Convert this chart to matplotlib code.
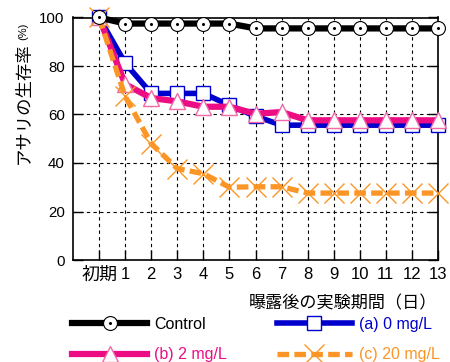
import numpy as np
import matplotlib
matplotlib.use('Agg')
import matplotlib.pyplot as plt

plt.rcParams['font.family'] = ['Liberation Sans', 'Noto Sans CJK JP', 'DejaVu Sans']

# データ
day_labels = ['初期', '1', '2', '3', '4', '5', '6', '7', '8', '9', '10', '11', '12', '13']
control = [100, 97.5, 97.5, 97.5, 97.5, 97.5, 95.5, 95.5, 95.5, 95.5, 95.5, 95.5, 95.5, 95.5]
a_0mg = [100, 81.2, 68.7, 68.7, 68.7, 63.8, 59.3, 55.6, 55.6, 55.6, 55.6, 55.6, 55.6, 55.6]
b_2mg = [100, 72.5, 66.8, 65.4, 63.2, 63.2, 60.3, 61.0, 57.6, 57.6, 57.6, 57.6, 57.6, 57.6]
c_20mg = [100, 67.5, 48, 37.7, 35.6, 30.0, 30.2, 30.2, 27.6, 27.6, 27.6, 27.6, 27.6, 27.6]
y_ticks = [0, 20, 40, 60, 80, 100]

x = np.arange(len(day_labels))

blue = '#0000cc'
pink = '#ec0c84'
pink_mk = '#f06aa8'
orange = '#fb9526'

fig = plt.figure(figsize=(4.5, 3.62), dpi=100)
ax = fig.add_axes([73 / 450, 1 - 260 / 362, 365 / 450, (260 - 17.5) / 362])

# グリッド
for xi in x:
    ax.axvline(xi, color='black', lw=0.8, ls=(0, (3, 3)), zorder=1)
for yi in y_ticks[1:-1]:
    ax.axhline(yi, color='black', lw=0.8, ls=(0, (3, 3)), zorder=1)

la, = ax.plot(x, a_0mg, color=blue, lw=4, marker='s', ms=9.5, mfc='white',
              mec=blue, mew=1.0, zorder=3, clip_on=False)
lb, = ax.plot(x, b_2mg, color=pink, lw=4.5, marker='^', ms=11, mfc='white',
              mec=pink_mk, mew=1.0, zorder=4, clip_on=False)
lc, = ax.plot(x, c_20mg, color=orange, lw=3.8, dashes=(2.2, 1.0), marker='x',
              ms=15, mec=orange, mew=1.0, zorder=5, clip_on=False)
lk, = ax.plot(x, control, color='black', lw=4.5, marker='o', ms=10, mfc='white',
              mec='black', mew=0.8, zorder=6, clip_on=False)
ld, = ax.plot(x, control, ls='none', marker='o', ms=1.2, color='black', zorder=7,
              clip_on=False)

ax.set_xlim(-1, 13)
ax.set_ylim(0, 100)
ax.set_xticks(x)
ax.set_xticklabels(day_labels, fontsize=12)
ax.get_xticklabels()[0].set_fontsize(13)
ax.set_yticks(y_ticks)
ax.set_yticklabels([str(v) for v in y_ticks], fontsize=10.8)
ax.tick_params(direction='in', length=7, width=1, top=True, right=True)
ax.tick_params(axis='x', pad=5, top=False)
ax.tick_params(axis='y', pad=6)
for s in ax.spines.values():
    s.set_linewidth(1.2)

# 軸ラベル
fig.text(23.5 / 450, 1 - 103.5 / 362, 'アサリの生存率', rotation=90, ha='center',
         va='center', fontsize=12.5)
fig.text(23.5 / 450, 1 - 31 / 362, '(%)', rotation=90, ha='center', va='center',
         fontsize=8)
fig.text(342.5 / 450, 1 - 303 / 362, '曝露後の実験期間（日）', ha='center', va='center',
         fontsize=12.3)

leg = fig.legend([(lk, ld), lb, la, lc],
                 ['Control', '(b) 2 mg/L', '(a) 0 mg/L', '(c) 20 mg/L'],
                 ncol=2, loc='upper left', bbox_to_anchor=(72 / 450, 1 - 317 / 362),
                 frameon=False, fontsize=11.5, handlelength=4.7, handletextpad=0.45,
                 columnspacing=3.1, labelspacing=0.95, borderpad=0, borderaxespad=0)
for t, c in zip(leg.get_texts(), ['black', pink, blue, orange]):
    t.set_color(c)

fig.savefig('out.png', dpi=100)
